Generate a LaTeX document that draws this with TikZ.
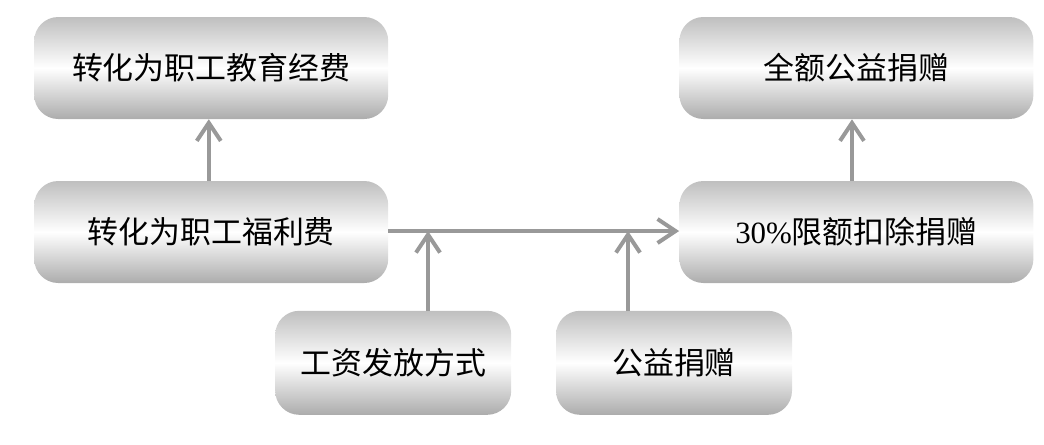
\documentclass[tikz,border=0pt]{standalone}
\usepackage{fontspec}
\usepackage{xcolor}
\usepackage{tikz}
\usetikzlibrary{arrows.meta}
\newfontfamily\cjk{Noto Sans CJK SC}
\newfontfamily\latin{Liberation Serif}

\definecolor{linegray}{HTML}{999999}
\tikzset{
  roundbox/.style={rounded corners=0.6cm, top color=gray!50, bottom color=gray!65, middle color=white,
    font=\cjk\fontsize{22}{26}\selectfont, inner sep=0pt},
  wide/.style={roundbox, minimum width=8.85cm, minimum height=2.55cm},
  narrow/.style={roundbox, minimum width=5.9cm, minimum height=2.6cm},
  flow/.style={-{Straight Barb[length=0.45cm, width=0.6cm]}, line width=0.1cm, draw=linegray}
}

\begin{document}
\begin{tikzpicture}[node distance=4.1cm, auto]
    \useasboundingbox (0,0) rectangle (26.1,-11.1);
    \node[wide] (welfare) at (5.28,-5.8) {转化为职工福利费};
    \node[wide, above of=welfare] (edu) {转化为职工教育经费};
    \node[wide] (limit) at (21.41,-5.8) {{\latin 30\%}限额扣除捐赠};
    \node[wide, above of=limit] (full) {全额公益捐赠};
    \node[narrow] (salary) at (9.83,-9.07) {工资发放方式};
    \node[narrow] (charity) at (16.85,-9.07) {公益捐赠};

    \coordinate (j1) at (10.7,-5.775);
    \coordinate (j2) at (15.7,-5.775);

    \draw[flow] (welfare.north -| 5.22,0) -- (edu.south -| 5.22,0);
    \draw[flow] (limit.north -| 21.3,0) -- (full.south -| 21.3,0);
    \draw[flow] (welfare.east |- j1) -- (limit.west |- j1);
    \draw[flow] (salary.north -| j1) -- (j1);
    \draw[flow] (charity.north -| j2) -- (j2);
\end{tikzpicture}
\end{document}
